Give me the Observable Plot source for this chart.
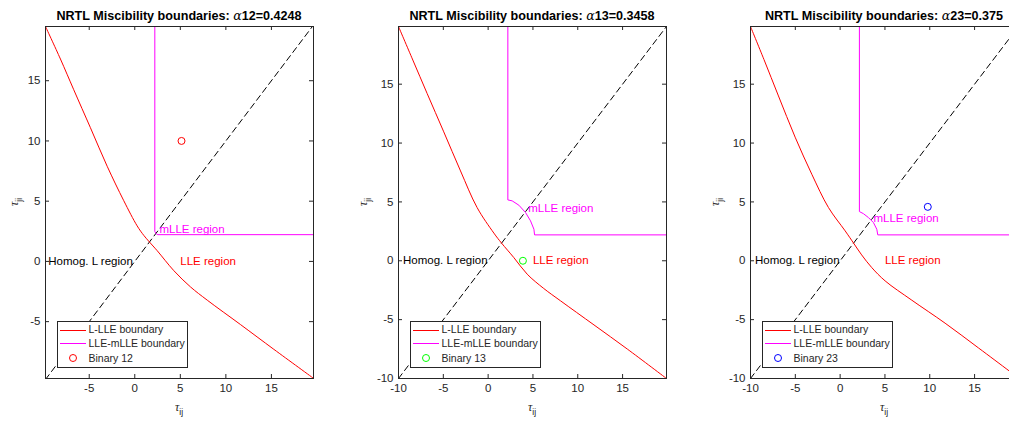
<!DOCTYPE html>
<html><head><meta charset="utf-8">
<script src="https://cdn.jsdelivr.net/npm/d3@7"></script>
<script src="https://cdn.jsdelivr.net/npm/@observablehq/plot@0.6"></script>
<style>
html,body{margin:0;padding:0;background:#fff;overflow:hidden}
#wrap{position:relative;width:1009px;height:421px;overflow:hidden;background:#fff}
#wrap svg{position:absolute;top:0}
</style></head><body><div id="wrap"></div>
<script>
// ---------- data ----------
const binaryNames = ["12", "13", "23"];
const alphaValues = ["0.4248", "0.3458", "0.375"];
const legendLabels = ["L-LLE boundary", "LLE-mLLE boundary"];
const regionLabels = ["Homog. L region", "LLE region", "mLLE region"];

const xTicks12 = [-5, 0, 5, 10, 15];
const yTicks12 = [-5, 0, 5, 10, 15];
const xTicks13 = [-10, -5, 0, 5, 10, 15];
const yTicks13 = [-10, -5, 0, 5, 10, 15];
const xTicks23 = [-10, -5, 0, 5, 10, 15];
const yTicks23 = [-10, -5, 0, 5, 10, 15];

const range12 = [-9.8, 19.62];
const range12y = [-9.72, 19.5];
const range13 = [-10, 19.9];
const range23 = [-10, 19.9];

// L-LLE boundary (red)
const lleTauIJ_12 = [-9.8, -8.16, -6.7, -4.87, -3.03, -1.21, 0.26, 1.0, 1.6, 2.46, 4.29, 6.12, 7.96, 11.62, 15.27, 19.65];
const lleTauJI_12 = [19.5, 16.8, 14.25, 11.1, 7.9, 5.04, 2.95, 2.15, 1.62, 0.89, -0.77, -2.12, -3.22, -5.25, -7.3, -9.72];
const lleTauIJ_13 = [-10, -8.4, -6.8, -4.95, -3.08, -1.23, 0.64, 1.5, 2.87, 4.36, 6.2, 8.09, 11.81, 15.53, 19.9];
const lleTauJI_13 = [19.9, 17.05, 14.2, 10.95, 7.63, 4.52, 2.35, 1.5, 0.27, -1.14, -2.35, -3.41, -5.45, -7.5, -10];
const lleTauIJ_23 = [-10, -8.5, -6.88, -5.02, -3.16, -1.3, 0.56, 1.5, 2.4, 3.53, 5.02, 8.0, 11.71, 15.43, 18.85, 19.9];
const lleTauJI_23 = [19.9, 17.1, 14.0, 10.5, 7.35, 4.52, 2.54, 1.5, 0.5, -0.58, -1.71, -3.35, -5.3, -7.4, -9.35, -9.95];

// LLE-mLLE boundary (magenta)
const mlleTauIJ_12 = [2.2, 2.2, 2.3, 2.4, 2.53, 19.62];
const mlleTauJI_12 = [19.5, 2.49, 2.35, 2.26, 2.22, 2.22];
const mlleTauIJ_13 = [2.2, 2.2, 2.68, 3.43, 4.18, 4.73, 5.11, 5.18, 19.9];
const mlleTauJI_13 = [19.9, 5.17, 5.09, 4.72, 4.09, 3.39, 2.68, 2.2, 2.2];
const mlleTauIJ_23 = [2.15, 2.15, 2.6, 3.16, 3.72, 4.09, 4.2, 19.9];
const mlleTauJI_23 = [19.9, 4.18, 4.0, 3.67, 3.24, 2.68, 2.2, 2.2];

// binary pair points
const binaryTau_12 = [5.13, 10.0];
const binaryTau_13 = [3.88, 0.0];
const binaryTau_23 = [9.78, 4.58];
const binaryColors = ["#ff0000", "#00ff00", "#0000ff"];

// region label anchors [tau_ij, tau_ji] for Homog, LLE, mLLE
const labelPos_12 = [[-9.5, 0], [5.0, 0], [2.71, 2.63]];
const labelPos_13 = [[-9.5, 0], [5.0, 0], [4.47, 4.43]];
const labelPos_23 = [[-9.5, 0], [5.0, 0], [3.72, 3.59]];

// ---------- drawing ----------
const FONT = "'Liberation Sans', Arial, Helvetica, sans-serif";
const AX = "#262626";
const W = 340, H = 421, MT = 26, MB = 43;

const panels = [
  {left: 0, ml: 45, mr: 27, xd: range12, yd: range12y, xt: xTicks12, yt: yTicks12,
   lx: lleTauIJ_12, ly: lleTauJI_12, mx: mlleTauIJ_12, my: mlleTauJI_12, b: binaryTau_12, lp: labelPos_12, ylab: 27},
  {left: 350, ml: 48, mr: 24, xd: range13, yd: range13, xt: xTicks13, yt: yTicks13,
   lx: lleTauIJ_13, ly: lleTauJI_13, mx: mlleTauIJ_13, my: mlleTauJI_13, b: binaryTau_13, lp: labelPos_13, ylab: 31},
  {left: 700, ml: 50, mr: 22, xd: range23, yd: range23, xt: xTicks23, yt: yTicks23,
   lx: lleTauIJ_23, ly: lleTauJI_23, mx: mlleTauIJ_23, my: mlleTauJI_23, b: binaryTau_23, lp: labelPos_23, ylab: 31}
];

const wrap = document.getElementById("wrap");

panels.forEach((p, i) => {
  const pw = W - p.ml - p.mr, ph = H - MT - MB;
  const lo = Math.min(p.xd[0], p.yd[0]), hi = Math.max(p.xd[1], p.yd[1]);
  const diag = [lo, hi];
  const lle = d3.zip(p.lx, p.ly);
  const mlle = d3.zip(p.mx, p.my);
  const labels = regionLabels.map((t, k) => ({t, x: p.lp[k][0], y: p.lp[k][1]}));
  const regionColors = {"Homog. L region": "black", "LLE region": "#ff0000", "mLLE region": "#ff00ff"};
  const chart = Plot.plot({
    width: W, height: H,
    marginTop: MT, marginBottom: MB, marginLeft: p.ml, marginRight: p.mr,
    style: {fontFamily: FONT, fontSize: "11.5px", color: AX, background: "transparent", overflow: "visible"},
    x: {domain: p.xd, ticks: p.xt, tickFormat: d => String(d), tickSize: 0, tickPadding: 5, label: null},
    y: {domain: p.yd, ticks: p.yt, tickFormat: d => String(d), tickSize: 0, tickPadding: 5, label: null},
    marks: [
      Plot.line(diag, {x: d => d, y: d => d, stroke: "black", strokeWidth: 1, strokeDasharray: "6,4", clip: true}),
      Plot.line(lle, {x: d => d[0], y: d => d[1], stroke: "#ff0000", strokeWidth: 1, curve: "catmull-rom", clip: true}),
      Plot.line(mlle, {x: d => d[0], y: d => d[1], stroke: "#ff00ff", strokeWidth: 1, clip: true}),
      Plot.dot([p.b], {x: d => d[0], y: d => d[1], r: 3.5, stroke: binaryColors[i], strokeWidth: 1, fill: "none"}),
      Plot.text(labels, {x: "x", y: "y", text: "t", textAnchor: "start", fill: d => regionColors[d.t], fontSize: 11.5}),
      Plot.tickX(p.xt, {x: d => d, insetTop: ph - 4, stroke: AX}),
      Plot.tickX(p.xt, {x: d => d, insetBottom: ph - 4, stroke: AX}),
      Plot.tickY(p.yt, {y: d => d, insetRight: pw - 4, stroke: AX}),
      Plot.tickY(p.yt, {y: d => d, insetLeft: pw - 4, stroke: AX}),
      Plot.frame({stroke: AX})
    ]
  });
  chart.style.left = p.left + "px";
  wrap.appendChild(chart);
  const svg = d3.select(chart);

  // title
  const title = svg.append("text")
    .attr("x", p.ml + pw / 2).attr("y", 20)
    .attr("text-anchor", "middle")
    .attr("fill", "black")
    .style("font-family", FONT).style("font-size", "12.6px");
  title.append("tspan").attr("font-weight", "bold").text("NRTL Miscibility boundaries: ");
  title.append("tspan").attr("font-family", "'DejaVu Serif', serif").attr("font-style", "italic").text("α");
  title.append("tspan").attr("font-weight", "bold").text(binaryNames[i] + "=" + alphaValues[i]);

  // axis labels
  const xl = svg.append("text")
    .attr("x", p.ml + pw / 2).attr("y", 411)
    .attr("text-anchor", "middle").attr("fill", AX)
    .style("font-family", FONT);
  xl.append("tspan").style("font-family", "'Liberation Serif', serif").style("font-style", "italic").style("font-size", "12px").text("τ");
  xl.append("tspan").attr("dy", 4).style("font-size", "8.5px").text("ij");

  const yl = svg.append("text")
    .attr("transform", `translate(${p.ml - p.ylab},${MT + ph / 2}) rotate(-90)`)
    .attr("text-anchor", "middle").attr("fill", AX)
    .style("font-family", FONT);
  yl.append("tspan").style("font-family", "'Liberation Serif', serif").style("font-style", "italic").style("font-size", "12px").text("τ");
  yl.append("tspan").attr("dy", 4).style("font-size", "8.5px").text("ji");

  // legend
  const lg = svg.append("g").attr("text-anchor", "start").style("font-family", FONT).style("font-size", "10.5px");
  const bx = p.ml + 12, by = 321;
  lg.append("rect").attr("x", bx + 0.5).attr("y", by + 0.5).attr("width", 130).attr("height", 46)
    .style("fill", "white").style("stroke", AX).style("stroke-width", "1px");
  const rows = [8.5, 22, 37];
  const lcol = ["#ff0000", "#ff00ff"];
  [0, 1].forEach(k => {
    const yy = Math.round(by + rows[k]);
    lg.append("rect").attr("x", p.ml + 15).attr("y", yy).attr("width", 26).attr("height", 1)
      .style("fill", lcol[k]).style("stroke", "none");
    lg.append("text").attr("x", p.ml + 43.5).attr("y", by + rows[k]).attr("dy", "0.35em")
      .attr("text-anchor", "start").style("fill", AX).text(legendLabels[k]);
  });
  lg.append("circle").attr("cx", p.ml + 28).attr("cy", by + rows[2]).attr("r", 3.5)
    .style("fill", "none").style("stroke", binaryColors[i]).style("stroke-width", "1px");
  lg.append("text").attr("x", p.ml + 43.5).attr("y", by + rows[2]).attr("dy", "0.35em")
    .attr("text-anchor", "start").style("fill", AX).text("Binary " + binaryNames[i]);
});
</script>
</body></html>
